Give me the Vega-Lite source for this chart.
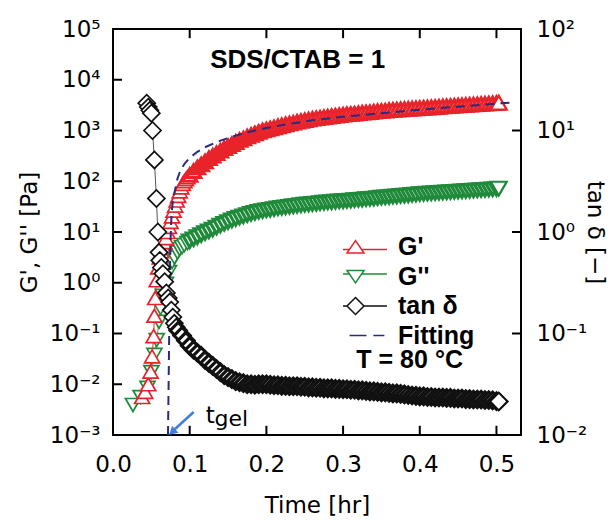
{
"$schema": "https://vega.github.io/schema/vega-lite/v6.json",
"width": 408, "height": 406,
"autosize": "none",
"padding": {"left": 113, "top": 29, "right": 94, "bottom": 85},
"config": {
  "font": "DejaVu Sans",
  "view": {"stroke": "black", "strokeWidth": 2},
  "axis": {"grid": false, "domain": false, "ticks": false, "labelFont": "DejaVu Sans", "titleFont": "DejaVu Sans", "labelFontSize": 23, "labelColor": "black", "titleFontSize": 23, "titleFontWeight": "normal", "titleColor": "black", "labelFlush": false, "labelOverlap": false}
},
"datasets": {
  "gp": [
    {"t":0.038,"v":0.0056},{"t":0.042,"v":0.0071},{"t":0.046,"v":0.010},{"t":0.049,"v":0.0178},{"t":0.051,"v":0.0355},{"t":0.053,"v":0.089},{"t":0.054,"v":0.224},{"t":0.055,"v":0.501},{"t":0.057,"v":1.12},{"t":0.059,"v":2.0},{"t":0.061,"v":3.16},{"t":0.063,"v":4.17},{"t":0.065,"v":5.25},{"t":0.067,"v":6.31},{"t":0.069,"v":7.59},{"t":0.071,"v":10.0},{"t":0.073,"v":12.6},{"t":0.075,"v":15.8},{"t":0.077,"v":20.4},{"t":0.079,"v":26.3},{"t":0.081,"v":33.1},{"t":0.083,"v":41.7},{"t":0.085,"v":51.3},{"t":0.087,"v":63.1},{"t":0.089,"v":75.9},{"t":0.091,"v":89.1},{"t":0.093,"v":100},{"t":0.095,"v":110},{"t":0.097,"v":120},
    {"t":0.100,"v":132},{"t":0.105,"v":158},{"t":0.110,"v":186},{"t":0.115,"v":214},{"t":0.120,"v":245},{"t":0.125,"v":282},{"t":0.130,"v":316},{"t":0.135,"v":355},{"t":0.140,"v":398},{"t":0.145,"v":447},{"t":0.150,"v":490},{"t":0.155,"v":537},{"t":0.160,"v":589},{"t":0.165,"v":646},{"t":0.170,"v":692},{"t":0.175,"v":759},{"t":0.180,"v":813},{"t":0.185,"v":871},{"t":0.190,"v":933},{"t":0.195,"v":1000},{"t":0.200,"v":1047},{"t":0.205,"v":1096},{"t":0.210,"v":1148},{"t":0.215,"v":1202},{"t":0.220,"v":1259},{"t":0.225,"v":1318},{"t":0.230,"v":1365},{"t":0.235,"v":1413},{"t":0.240,"v":1479},{"t":0.245,"v":1531},{"t":0.250,"v":1585},{"t":0.255,"v":1641},{"t":0.260,"v":1698},{"t":0.265,"v":1738},{"t":0.270,"v":1778},{"t":0.275,"v":1820},{"t":0.280,"v":1862},{"t":0.285,"v":1905},{"t":0.290,"v":1950},{"t":0.295,"v":1995},{"t":0.300,"v":2042},{"t":0.305,"v":2089},{"t":0.310,"v":2113},{"t":0.315,"v":2138},{"t":0.320,"v":2188},{"t":0.325,"v":2239},{"t":0.330,"v":2265},{"t":0.335,"v":2291},{"t":0.340,"v":2344},{"t":0.345,"v":2399},{"t":0.350,"v":2427},{"t":0.355,"v":2455},{"t":0.360,"v":2512},{"t":0.365,"v":2541},{"t":0.370,"v":2570},{"t":0.375,"v":2600},{"t":0.380,"v":2630},{"t":0.385,"v":2661},{"t":0.390,"v":2692},{"t":0.395,"v":2723},{"t":0.400,"v":2754},{"t":0.405,"v":2786},{"t":0.410,"v":2818},{"t":0.415,"v":2851},{"t":0.420,"v":2884},{"t":0.425,"v":2917},{"t":0.430,"v":2951},{"t":0.435,"v":2985},{"t":0.440,"v":3020},{"t":0.445,"v":3055},{"t":0.450,"v":3090},{"t":0.455,"v":3126},{"t":0.460,"v":3162},{"t":0.465,"v":3199},{"t":0.470,"v":3236},{"t":0.475,"v":3273},{"t":0.480,"v":3311},{"t":0.485,"v":3350},{"t":0.490,"v":3388},{"t":0.495,"v":3428},{"t":0.500,"v":3467},{"t":0.503,"v":3508}
  ],
  "gpp": [
    {"t":0.026,"v":0.0039},{"t":0.036,"v":0.0056},{"t":0.045,"v":0.0085},{"t":0.050,"v":0.0174},{"t":0.054,"v":0.038},{"t":0.057,"v":0.074},{"t":0.060,"v":0.17},{"t":0.062,"v":0.316},{"t":0.065,"v":0.55},{"t":0.069,"v":0.955},{"t":0.073,"v":1.62},{"t":0.077,"v":2.57},{"t":0.080,"v":3.16},{"t":0.084,"v":3.98},{"t":0.087,"v":4.57},{"t":0.090,"v":5.01},{"t":0.093,"v":5.50},{"t":0.097,"v":6.03},
    {"t":0.100,"v":6.61},{"t":0.105,"v":7.24},{"t":0.110,"v":7.94},{"t":0.115,"v":8.71},{"t":0.120,"v":9.55},{"t":0.125,"v":10.35},{"t":0.130,"v":11.2},{"t":0.135,"v":12.3},{"t":0.140,"v":13.5},{"t":0.145,"v":14.6},{"t":0.150,"v":15.8},{"t":0.155,"v":17.0},{"t":0.160,"v":18.2},{"t":0.165,"v":19.3},{"t":0.170,"v":20.4},{"t":0.175,"v":21.6},{"t":0.180,"v":22.9},{"t":0.185,"v":24.0},{"t":0.190,"v":25.1},{"t":0.195,"v":26.0},{"t":0.200,"v":26.9},{"t":0.205,"v":27.5},{"t":0.210,"v":28.5},{"t":0.215,"v":29.5},{"t":0.220,"v":30.2},{"t":0.225,"v":30.9},{"t":0.230,"v":31.6},{"t":0.235,"v":32.4},{"t":0.240,"v":33.1},{"t":0.245,"v":33.9},{"t":0.250,"v":34.7},{"t":0.255,"v":35.1},{"t":0.260,"v":35.9},{"t":0.265,"v":36.3},{"t":0.270,"v":37.2},{"t":0.275,"v":38.0},{"t":0.280,"v":38.5},{"t":0.285,"v":38.9},{"t":0.290,"v":39.8},{"t":0.295,"v":40.3},{"t":0.300,"v":40.7},{"t":0.305,"v":41.2},{"t":0.310,"v":41.7},{"t":0.315,"v":42.7},{"t":0.320,"v":43.2},{"t":0.325,"v":43.7},{"t":0.330,"v":44.7},{"t":0.335,"v":45.2},{"t":0.340,"v":45.7},{"t":0.345,"v":46.8},{"t":0.350,"v":47.9},{"t":0.355,"v":48.4},{"t":0.360,"v":49.0},{"t":0.365,"v":50.1},{"t":0.370,"v":50.7},{"t":0.375,"v":51.9},{"t":0.380,"v":52.5},{"t":0.385,"v":53.1},{"t":0.390,"v":54.3},{"t":0.395,"v":55.0},{"t":0.400,"v":56.2},{"t":0.405,"v":56.9},{"t":0.410,"v":57.5},{"t":0.415,"v":58.2},{"t":0.420,"v":58.9},{"t":0.425,"v":59.6},{"t":0.430,"v":60.3},{"t":0.435,"v":61.0},{"t":0.440,"v":61.7},{"t":0.445,"v":62.4},{"t":0.450,"v":63.1},{"t":0.455,"v":63.8},{"t":0.460,"v":64.6},{"t":0.465,"v":65.3},{"t":0.470,"v":66.1},{"t":0.475,"v":66.8},{"t":0.480,"v":67.6},{"t":0.485,"v":68.4},{"t":0.490,"v":69.2},{"t":0.495,"v":70.0},{"t":0.500,"v":70.8},{"t":0.503,"v":72.4}
  ],
  "tan": [
    {"t":0.044,"v":18.6},{"t":0.046,"v":17.0},{"t":0.048,"v":15.8},{"t":0.050,"v":14.8},{"t":0.0515,"v":10.0},{"t":0.054,"v":5.13},{"t":0.0566,"v":2.14},{"t":0.0585,"v":1.0},{"t":0.060,"v":0.631},{"t":0.061,"v":0.525},{"t":0.063,"v":0.447},{"t":0.065,"v":0.389},{"t":0.0674,"v":0.324},{"t":0.0696,"v":0.251},{"t":0.072,"v":0.224},{"t":0.074,"v":0.204},{"t":0.076,"v":0.170},{"t":0.078,"v":0.145},{"t":0.080,"v":0.126},{"t":0.0825,"v":0.115},
    {"t":0.085,"v":0.107},{"t":0.090,"v":0.0955},{"t":0.095,"v":0.0851},{"t":0.100,"v":0.0759},{"t":0.105,"v":0.0692},{"t":0.110,"v":0.0646},{"t":0.115,"v":0.0603},{"t":0.120,"v":0.0550},{"t":0.125,"v":0.0513},{"t":0.130,"v":0.0479},{"t":0.135,"v":0.0447},{"t":0.140,"v":0.0417},{"t":0.145,"v":0.0389},{"t":0.150,"v":0.0372},{"t":0.155,"v":0.0355},{"t":0.160,"v":0.0339},{"t":0.165,"v":0.0331},{"t":0.170,"v":0.0324},{"t":0.175,"v":0.0316},{"t":0.180,"v":0.0316},{"t":0.185,"v":0.0313},{"t":0.190,"v":0.0316},{"t":0.195,"v":0.0316},{"t":0.200,"v":0.0316},{"t":0.205,"v":0.0313},{"t":0.210,"v":0.0309},{"t":0.215,"v":0.0309},{"t":0.220,"v":0.0305},{"t":0.225,"v":0.0305},{"t":0.230,"v":0.0302},{"t":0.235,"v":0.0302},{"t":0.240,"v":0.0302},{"t":0.245,"v":0.0299},{"t":0.250,"v":0.0299},{"t":0.255,"v":0.0295},{"t":0.260,"v":0.0295},{"t":0.265,"v":0.0292},{"t":0.270,"v":0.0292},{"t":0.275,"v":0.0288},{"t":0.280,"v":0.0288},{"t":0.285,"v":0.0288},{"t":0.290,"v":0.0285},{"t":0.295,"v":0.0285},{"t":0.300,"v":0.0282},{"t":0.305,"v":0.0282},{"t":0.310,"v":0.0279},{"t":0.315,"v":0.0279},{"t":0.320,"v":0.0275},{"t":0.325,"v":0.0275},{"t":0.330,"v":0.0272},{"t":0.335,"v":0.0269},{"t":0.340,"v":0.0269},{"t":0.345,"v":0.0266},{"t":0.350,"v":0.0263},{"t":0.355,"v":0.0263},{"t":0.360,"v":0.0260},{"t":0.365,"v":0.0257},{"t":0.370,"v":0.0257},{"t":0.375,"v":0.0254},{"t":0.380,"v":0.0251},{"t":0.385,"v":0.0248},{"t":0.390,"v":0.0245},{"t":0.395,"v":0.0243},{"t":0.400,"v":0.0240},{"t":0.405,"v":0.0240},{"t":0.410,"v":0.0237},{"t":0.415,"v":0.0237},{"t":0.420,"v":0.0234},{"t":0.425,"v":0.0234},{"t":0.430,"v":0.0234},{"t":0.435,"v":0.0232},{"t":0.440,"v":0.0232},{"t":0.445,"v":0.0229},{"t":0.450,"v":0.0229},{"t":0.455,"v":0.0229},{"t":0.460,"v":0.0226},{"t":0.465,"v":0.0226},{"t":0.470,"v":0.0224},{"t":0.475,"v":0.0224},{"t":0.480,"v":0.0224},{"t":0.485,"v":0.0221},{"t":0.490,"v":0.0221},{"t":0.495,"v":0.0219},{"t":0.500,"v":0.0216},{"t":0.503,"v":0.0214}
  ],
  "fit": [
    {"t":0.0717,"v":0.001},{"t":0.0722,"v":0.00398},{"t":0.0726,"v":0.0126},{"t":0.0732,"v":0.0794},{"t":0.0739,"v":0.447},{"t":0.0746,"v":3.98},{"t":0.0755,"v":11.2},{"t":0.0765,"v":24.0},{"t":0.078,"v":39.8},{"t":0.0805,"v":63.1},{"t":0.084,"v":112},{"t":0.088,"v":166},{"t":0.094,"v":229},{"t":0.10,"v":288},{"t":0.11,"v":380},{"t":0.12,"v":468},{"t":0.14,"v":631},{"t":0.16,"v":794},{"t":0.18,"v":955},{"t":0.20,"v":1122},{"t":0.23,"v":1349},{"t":0.26,"v":1585},{"t":0.30,"v":1862},{"t":0.35,"v":2188},{"t":0.40,"v":2570},{"t":0.45,"v":2951},{"t":0.50,"v":3388},{"t":0.52,"v":3548}
  ],
  "xticks": [{"t":0.1},{"t":0.2},{"t":0.3},{"t":0.4},{"t":0.5}],
  "lticks": [{"v":0.01},{"v":0.1},{"v":1},{"v":10},{"v":100},{"v":1000},{"v":10000}],
  "rticks": [{"v":0.1},{"v":1},{"v":10}],
  "leg": [{"s":"G'"},{"s":"G''"},{"s":"tan δ"},{"s":"Fitting"}],
  "one": [{}]
},
"layer": [
  {
    "layer": [
      {"data": {"name": "gpp"}, "mark": {"type": "line", "stroke": "#888888", "strokeWidth": 1, "clip": true},
       "encoding": {
         "x": {"field": "t", "type": "quantitative", "scale": {"domain": [0, 0.532], "nice": false, "zero": false},
               "axis": {"values": [0, 0.1, 0.2, 0.3, 0.4, 0.5], "format": ".1f", "labelPadding": 18, "title": "Time [hr]", "titlePadding": 18}},
         "y": {"field": "v", "type": "quantitative", "scale": {"type": "log", "domain": [0.001, 100000], "nice": false},
               "axis": {"values": [0.001, 0.01, 0.1, 1, 10, 100, 1000, 10000, 100000], "labelExpr": "{'0.001':'10⁻³','0.01':'10⁻²','0.1':'10⁻¹','1':'10⁰','10':'10¹','100':'10²','1000':'10³','10000':'10⁴','100000':'10⁵'}['' + datum.value]", "labelPadding": 13, "title": "G', G'' [Pa]", "titlePadding": 8}}
       }},
      {"data": {"name": "gpp"}, "transform": [{"filter": "datum.t < 0.0995"}], "mark": {"type": "point", "shape": "triangle-down", "filled": true, "fill": "white", "stroke": "#1f8a3a", "strokeWidth": 1.7, "size": 225, "opacity": 1, "clip": true},
       "encoding": {"x": {"field": "t", "type": "quantitative"}, "y": {"field": "v", "type": "quantitative"}}},
      {"data": {"name": "gpp"}, "transform": [{"filter": "datum.t >= 0.0995"}], "mark": {"type": "point", "shape": "triangle-down", "filled": true, "fill": "white", "stroke": "#1f8a3a", "strokeWidth": 3.2, "size": 200, "opacity": 1, "clip": true},
       "encoding": {"x": {"field": "t", "type": "quantitative"}, "y": {"field": "v", "type": "quantitative"}}},
      {"data": {"name": "gpp"}, "transform": [{"filter": "datum.t > 0.501"}], "mark": {"type": "point", "shape": "triangle-down", "filled": true, "fill": "white", "stroke": "#1f8a3a", "strokeWidth": 1.7, "size": 225, "opacity": 1, "clip": true},
       "encoding": {"x": {"field": "t", "type": "quantitative"}, "y": {"field": "v", "type": "quantitative"}}},
      {"data": {"name": "gp"}, "mark": {"type": "line", "stroke": "#e8232a", "strokeWidth": 1, "clip": true},
       "encoding": {"x": {"field": "t", "type": "quantitative"}, "y": {"field": "v", "type": "quantitative"}}},
      {"data": {"name": "gp"}, "transform": [{"filter": "datum.t < 0.0995"}], "mark": {"type": "point", "shape": "triangle-up", "filled": true, "fill": "white", "stroke": "#e8232a", "strokeWidth": 1.7, "size": 225, "opacity": 1, "clip": true},
       "encoding": {"x": {"field": "t", "type": "quantitative"}, "y": {"field": "v", "type": "quantitative"}}},
      {"data": {"name": "gp"}, "transform": [{"filter": "datum.t >= 0.0995"}], "mark": {"type": "point", "shape": "triangle-up", "filled": true, "fill": "white", "stroke": "#e8232a", "strokeWidth": 3.2, "size": 200, "opacity": 1, "clip": true},
       "encoding": {"x": {"field": "t", "type": "quantitative"}, "y": {"field": "v", "type": "quantitative"}}},
      {"data": {"name": "gp"}, "transform": [{"filter": "datum.t > 0.501"}], "mark": {"type": "point", "shape": "triangle-up", "filled": true, "fill": "white", "stroke": "#e8232a", "strokeWidth": 1.7, "size": 225, "opacity": 1, "clip": true},
       "encoding": {"x": {"field": "t", "type": "quantitative"}, "y": {"field": "v", "type": "quantitative"}}},
      {"data": {"name": "fit"}, "mark": {"type": "line", "stroke": "#2b2a7c", "strokeWidth": 2, "strokeDash": [9, 6], "clip": true},
       "encoding": {"x": {"field": "t", "type": "quantitative"}, "y": {"field": "v", "type": "quantitative"}}},
      {"data": {"name": "xticks"}, "mark": {"type": "rule", "color": "black", "strokeWidth": 2},
       "encoding": {"x": {"field": "t", "type": "quantitative"}, "y": {"datum": 0.001}, "y2": {"datum": 0.00152}}},
      {"data": {"name": "xticks"}, "mark": {"type": "rule", "color": "black", "strokeWidth": 2},
       "encoding": {"x": {"field": "t", "type": "quantitative"}, "y": {"datum": 100000}, "y2": {"datum": 66000}}},
      {"data": {"name": "lticks"}, "mark": {"type": "rule", "color": "black", "strokeWidth": 2},
       "encoding": {"y": {"field": "v", "type": "quantitative"}, "x": {"datum": 0}, "x2": {"datum": 0.0117}}},
      {"data": {"name": "leg"},
       "mark": {"type": "point", "filled": true, "fill": "white", "strokeWidth": 1.6, "opacity": 1, "clip": true},
       "encoding": {
         "x": {"datum": -1},
         "y": {"datum": 1},
         "stroke": {"field": "s", "type": "nominal",
           "scale": {"domain": ["G'", "G''", "tan δ", "Fitting"], "range": ["#e8232a", "#1f8a3a", "#111111", "#2b2a7c"]},
           "legend": {"orient": "none", "legendX": 230, "legendY": 206, "title": null, "labelFont": "Liberation Sans", "labelFontSize": 25, "labelFontWeight": "bold", "labelColor": "black", "symbolSize": 289, "labelOffset": 30, "rowPadding": 4.5, "clipHeight": 24, "padding": 0, "symbolOffset": 0}},
         "shape": {"field": "s", "type": "nominal",
           "scale": {"domain": ["G'", "G''", "tan δ", "Fitting"], "range": [
             "M-3.7,0.3L-0.72,0.3M0.72,0.3L3.7,0.3M0,-0.75L-1,0.7L1,0.7Z",
             "M-3.7,-0.3L-0.72,-0.3M0.72,-0.3L3.7,-0.3M0,0.75L-1,-0.7L1,-0.7Z",
             "M-3.7,0L-1,0M1,0L3.7,0M0,-1L1,0L0,1L-1,0Z",
             "M-3.6,0L-1.5,0M-0.7,0L1.3,0M2.1,0L3.4,0"]},
           "legend": {"orient": "none", "legendX": 230, "legendY": 206, "title": null, "labelFont": "Liberation Sans", "labelFontSize": 25, "labelFontWeight": "bold", "labelColor": "black", "symbolSize": 289, "labelOffset": 30, "rowPadding": 4.5, "clipHeight": 24, "padding": 0, "symbolOffset": 0}}
       }},
      {"data": {"name": "one"}, "mark": {"type": "text", "text": "SDS/CTAB = 1", "font": "Liberation Sans", "fontSize": 26, "fontWeight": "bold", "align": "center", "baseline": "middle", "color": "black"},
       "encoding": {"x": {"datum": 0.2408}, "y": {"datum": 24490}}},
      {"data": {"name": "one"}, "mark": {"type": "text", "text": "T = 80 °C", "font": "Liberation Sans", "fontSize": 25, "fontWeight": "bold", "align": "center", "baseline": "middle", "color": "black"},
       "encoding": {"x": {"datum": 0.3868}, "y": {"datum": 0.0295}}},
      {"data": {"name": "one"}, "mark": {"type": "rule", "color": "#3f7fd8", "strokeWidth": 2.5},
       "encoding": {"x": {"datum": 0.1052}, "y": {"datum": 0.00284}, "x2": {"datum": 0.0791}, "y2": {"datum": 0.00124}}},
      {"data": {"name": "one"}, "mark": {"type": "point", "shape": "triangle-up", "filled": true, "color": "#3f7fd8", "size": 90, "angle": 228, "opacity": 1},
       "encoding": {"x": {"datum": 0.0772}, "y": {"datum": 0.00115}}},
      {"data": {"name": "one"}, "mark": {"type": "text", "text": "t", "fontSize": 23, "align": "left", "baseline": "alphabetic", "color": "black"},
       "encoding": {"x": {"datum": 0.1209}, "y": {"datum": 0.00175}}},
      {"data": {"name": "one"}, "mark": {"type": "text", "text": "gel", "fontSize": 22, "align": "left", "baseline": "alphabetic", "color": "black"},
       "encoding": {"x": {"datum": 0.1325}, "y": {"datum": 0.0015}}}
    ]
  },
  {
    "layer": [
      {"data": {"name": "tan"}, "mark": {"type": "line", "stroke": "#555555", "strokeWidth": 1, "clip": true},
       "encoding": {
         "x": {"field": "t", "type": "quantitative", "scale": {"domain": [0, 0.532], "nice": false, "zero": false}, "axis": null},
         "y": {"field": "v", "type": "quantitative", "scale": {"type": "log", "domain": [0.01, 100], "nice": false},
               "axis": {"orient": "right", "values": [0.01, 0.1, 1, 10, 100], "labelExpr": "{'0.01':'10⁻²','0.1':'10⁻¹','1':'10⁰','10':'10¹','100':'10²'}['' + datum.value]", "labelPadding": 15, "title": "tan δ [−]", "titlePadding": -4}}
       }},
      {"data": {"name": "tan"}, "transform": [{"filter": "datum.t < 0.084"}], "mark": {"type": "point", "shape": "diamond", "filled": true, "fill": "white", "stroke": "#111111", "strokeWidth": 1.7, "size": 290, "opacity": 1, "clip": true},
       "encoding": {"x": {"field": "t", "type": "quantitative"}, "y": {"field": "v", "type": "quantitative"}}},
      {"data": {"name": "tan"}, "transform": [{"filter": "datum.t >= 0.084"}], "mark": {"type": "point", "shape": "diamond", "filled": true, "fill": "white", "stroke": "#111111", "strokeWidth": 3.2, "size": 260, "opacity": 1, "clip": true},
       "encoding": {"x": {"field": "t", "type": "quantitative"}, "y": {"field": "v", "type": "quantitative"}}},
      {"data": {"name": "tan"}, "transform": [{"filter": "datum.t > 0.501"}], "mark": {"type": "point", "shape": "diamond", "filled": true, "fill": "white", "stroke": "#111111", "strokeWidth": 1.7, "size": 290, "opacity": 1, "clip": true},
       "encoding": {"x": {"field": "t", "type": "quantitative"}, "y": {"field": "v", "type": "quantitative"}}},
      {"data": {"name": "rticks"}, "mark": {"type": "rule", "color": "black", "strokeWidth": 2},
       "encoding": {"y": {"field": "v", "type": "quantitative"}, "x": {"datum": 0.5203}, "x2": {"datum": 0.532}}}
    ]
  }
],
"resolve": {"scale": {"x": "independent", "y": "independent"}}
}
